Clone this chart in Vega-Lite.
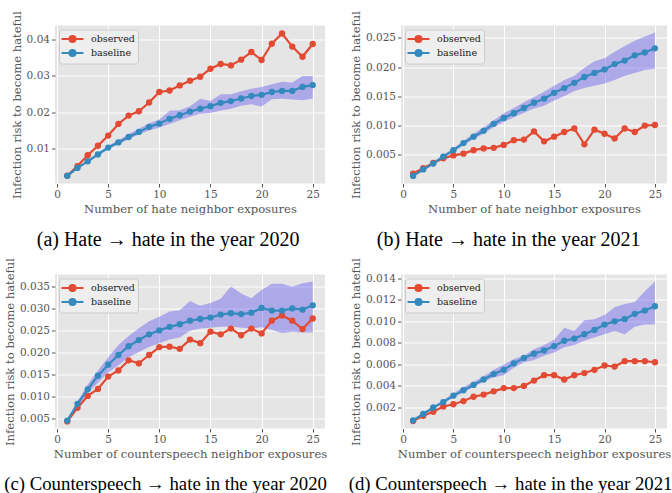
{
  "$schema": "https://vega.github.io/schema/vega-lite/v6.json",
  "padding": {"left": 4, "top": 9.5, "right": 2, "bottom": 0},
  "background": "white",
  "datasets": {
    "a": [
      {"x": 1, "observed": 0.00255, "baseline": 0.0025, "lo": 0.0024, "hi": 0.0026},
      {"x": 2, "observed": 0.0052, "baseline": 0.0047, "lo": 0.0045, "hi": 0.0049},
      {"x": 3, "observed": 0.0082, "baseline": 0.0065, "lo": 0.0062, "hi": 0.0068},
      {"x": 4, "observed": 0.0108, "baseline": 0.0084, "lo": 0.0080, "hi": 0.0088},
      {"x": 5, "observed": 0.0136, "baseline": 0.0103, "lo": 0.0098, "hi": 0.0108},
      {"x": 6, "observed": 0.0168, "baseline": 0.0117, "lo": 0.0112, "hi": 0.0123},
      {"x": 7, "observed": 0.0191, "baseline": 0.0132, "lo": 0.0126, "hi": 0.0140},
      {"x": 8, "observed": 0.0203, "baseline": 0.0146, "lo": 0.0139, "hi": 0.0155},
      {"x": 9, "observed": 0.0227, "baseline": 0.0160, "lo": 0.0150, "hi": 0.0170},
      {"x": 10, "observed": 0.0256, "baseline": 0.0169, "lo": 0.0158, "hi": 0.0180},
      {"x": 11, "observed": 0.0260, "baseline": 0.0182, "lo": 0.0168, "hi": 0.0204},
      {"x": 12, "observed": 0.0274, "baseline": 0.0192, "lo": 0.0178, "hi": 0.0206},
      {"x": 13, "observed": 0.0287, "baseline": 0.0202, "lo": 0.0188, "hi": 0.0217},
      {"x": 14, "observed": 0.0298, "baseline": 0.0210, "lo": 0.0196, "hi": 0.0237},
      {"x": 15, "observed": 0.0320, "baseline": 0.0217, "lo": 0.0198, "hi": 0.0231},
      {"x": 16, "observed": 0.0333, "baseline": 0.0226, "lo": 0.0205, "hi": 0.0250},
      {"x": 17, "observed": 0.0329, "baseline": 0.0231, "lo": 0.0210, "hi": 0.0250},
      {"x": 18, "observed": 0.0345, "baseline": 0.0238, "lo": 0.0218, "hi": 0.0258},
      {"x": 19, "observed": 0.0366, "baseline": 0.0245, "lo": 0.0222, "hi": 0.0265},
      {"x": 20, "observed": 0.0344, "baseline": 0.0248, "lo": 0.0216, "hi": 0.0270},
      {"x": 21, "observed": 0.0389, "baseline": 0.0256, "lo": 0.0236, "hi": 0.0277},
      {"x": 22, "observed": 0.0417, "baseline": 0.0259, "lo": 0.0237, "hi": 0.0284},
      {"x": 23, "observed": 0.0381, "baseline": 0.0259, "lo": 0.0235, "hi": 0.0282},
      {"x": 24, "observed": 0.0353, "baseline": 0.0270, "lo": 0.0233, "hi": 0.0300},
      {"x": 25, "observed": 0.0388, "baseline": 0.0275, "lo": 0.0238, "hi": 0.0300}
    ],
    "b": [
      {"x": 1, "observed": 0.0018, "baseline": 0.0014, "lo": 0.0013, "hi": 0.0015},
      {"x": 2, "observed": 0.0027, "baseline": 0.0025, "lo": 0.0023, "hi": 0.0027},
      {"x": 3, "observed": 0.0036, "baseline": 0.0035, "lo": 0.0033, "hi": 0.0038},
      {"x": 4, "observed": 0.0044, "baseline": 0.0047, "lo": 0.0045, "hi": 0.0050},
      {"x": 5, "observed": 0.0049, "baseline": 0.0058, "lo": 0.0055, "hi": 0.0061},
      {"x": 6, "observed": 0.0052, "baseline": 0.0070, "lo": 0.0066, "hi": 0.0074},
      {"x": 7, "observed": 0.0058, "baseline": 0.0081, "lo": 0.0077, "hi": 0.0086},
      {"x": 8, "observed": 0.0061, "baseline": 0.0091, "lo": 0.0086, "hi": 0.0097},
      {"x": 9, "observed": 0.0062, "baseline": 0.0103, "lo": 0.0097, "hi": 0.0109},
      {"x": 10, "observed": 0.0067, "baseline": 0.0113, "lo": 0.0106, "hi": 0.0121},
      {"x": 11, "observed": 0.0075, "baseline": 0.0121, "lo": 0.0114, "hi": 0.0130},
      {"x": 12, "observed": 0.0076, "baseline": 0.0130, "lo": 0.0122, "hi": 0.0140},
      {"x": 13, "observed": 0.0090, "baseline": 0.0139, "lo": 0.0129, "hi": 0.0149},
      {"x": 14, "observed": 0.0073, "baseline": 0.0146, "lo": 0.0134, "hi": 0.0158},
      {"x": 15, "observed": 0.0081, "baseline": 0.0156, "lo": 0.0143, "hi": 0.0168},
      {"x": 16, "observed": 0.0089, "baseline": 0.0164, "lo": 0.0150, "hi": 0.0178},
      {"x": 17, "observed": 0.0095, "baseline": 0.0173, "lo": 0.0159, "hi": 0.0185},
      {"x": 18, "observed": 0.0068, "baseline": 0.0183, "lo": 0.0164, "hi": 0.0199},
      {"x": 19, "observed": 0.0093, "baseline": 0.0190, "lo": 0.0168, "hi": 0.0210},
      {"x": 20, "observed": 0.0086, "baseline": 0.0196, "lo": 0.0172, "hi": 0.0215},
      {"x": 21, "observed": 0.0078, "baseline": 0.0205, "lo": 0.0178, "hi": 0.0226},
      {"x": 22, "observed": 0.0095, "baseline": 0.0211, "lo": 0.0185, "hi": 0.0236},
      {"x": 23, "observed": 0.0089, "baseline": 0.0220, "lo": 0.0190, "hi": 0.0245},
      {"x": 24, "observed": 0.0100, "baseline": 0.0225, "lo": 0.0195, "hi": 0.0252},
      {"x": 25, "observed": 0.0101, "baseline": 0.0232, "lo": 0.0197, "hi": 0.0259}
    ],
    "c": [
      {"x": 1, "observed": 0.0044, "baseline": 0.0046, "lo": 0.0045, "hi": 0.0047},
      {"x": 2, "observed": 0.0075, "baseline": 0.0084, "lo": 0.0078, "hi": 0.0090},
      {"x": 3, "observed": 0.0102, "baseline": 0.0117, "lo": 0.0108, "hi": 0.0128},
      {"x": 4, "observed": 0.0118, "baseline": 0.0148, "lo": 0.0132, "hi": 0.0160},
      {"x": 5, "observed": 0.0146, "baseline": 0.0173, "lo": 0.0155, "hi": 0.0190},
      {"x": 6, "observed": 0.0160, "baseline": 0.0195, "lo": 0.0172, "hi": 0.0218},
      {"x": 7, "observed": 0.0183, "baseline": 0.0215, "lo": 0.0190, "hi": 0.0238},
      {"x": 8, "observed": 0.0176, "baseline": 0.0229, "lo": 0.0202, "hi": 0.0256},
      {"x": 9, "observed": 0.0195, "baseline": 0.0242, "lo": 0.0213, "hi": 0.0272},
      {"x": 10, "observed": 0.0213, "baseline": 0.0251, "lo": 0.0222, "hi": 0.0282},
      {"x": 11, "observed": 0.0214, "baseline": 0.0259, "lo": 0.0230, "hi": 0.0294},
      {"x": 12, "observed": 0.0209, "baseline": 0.0265, "lo": 0.0235, "hi": 0.0297},
      {"x": 13, "observed": 0.0230, "baseline": 0.0273, "lo": 0.0250, "hi": 0.0318},
      {"x": 14, "observed": 0.0222, "baseline": 0.0277, "lo": 0.0255, "hi": 0.0307},
      {"x": 15, "observed": 0.0248, "baseline": 0.0280, "lo": 0.0257, "hi": 0.0313},
      {"x": 16, "observed": 0.0242, "baseline": 0.0287, "lo": 0.0259, "hi": 0.0323},
      {"x": 17, "observed": 0.0255, "baseline": 0.0290, "lo": 0.0260, "hi": 0.0351},
      {"x": 18, "observed": 0.0240, "baseline": 0.0288, "lo": 0.0257, "hi": 0.0335},
      {"x": 19, "observed": 0.0255, "baseline": 0.0291, "lo": 0.0255, "hi": 0.0324},
      {"x": 20, "observed": 0.0244, "baseline": 0.0302, "lo": 0.0258, "hi": 0.0343},
      {"x": 21, "observed": 0.0273, "baseline": 0.0296, "lo": 0.0252, "hi": 0.0357},
      {"x": 22, "observed": 0.0285, "baseline": 0.0296, "lo": 0.0245, "hi": 0.0357},
      {"x": 23, "observed": 0.0273, "baseline": 0.0301, "lo": 0.0248, "hi": 0.0350},
      {"x": 24, "observed": 0.0254, "baseline": 0.0298, "lo": 0.0246, "hi": 0.0358},
      {"x": 25, "observed": 0.0278, "baseline": 0.0308, "lo": 0.0246, "hi": 0.0362}
    ],
    "d": [
      {"x": 1, "observed": 0.00074, "baseline": 0.0008, "lo": 0.0007, "hi": 0.0009},
      {"x": 2, "observed": 0.00123, "baseline": 0.0014, "lo": 0.0013, "hi": 0.0015},
      {"x": 3, "observed": 0.0016, "baseline": 0.0020, "lo": 0.0019, "hi": 0.0021},
      {"x": 4, "observed": 0.0021, "baseline": 0.0025, "lo": 0.0024, "hi": 0.0027},
      {"x": 5, "observed": 0.0023, "baseline": 0.0031, "lo": 0.0029, "hi": 0.0033},
      {"x": 6, "observed": 0.0026, "baseline": 0.0036, "lo": 0.0034, "hi": 0.0039},
      {"x": 7, "observed": 0.0030, "baseline": 0.0041, "lo": 0.0039, "hi": 0.0044},
      {"x": 8, "observed": 0.0032, "baseline": 0.0046, "lo": 0.0044, "hi": 0.0049},
      {"x": 9, "observed": 0.0035, "baseline": 0.0051, "lo": 0.0048, "hi": 0.0055},
      {"x": 10, "observed": 0.0038, "baseline": 0.0055, "lo": 0.0050, "hi": 0.0060},
      {"x": 11, "observed": 0.0038, "baseline": 0.0061, "lo": 0.0057, "hi": 0.0065},
      {"x": 12, "observed": 0.0040, "baseline": 0.0066, "lo": 0.0062, "hi": 0.0068},
      {"x": 13, "observed": 0.0045, "baseline": 0.0070, "lo": 0.0064, "hi": 0.0074},
      {"x": 14, "observed": 0.0050, "baseline": 0.0073, "lo": 0.0068, "hi": 0.0078},
      {"x": 15, "observed": 0.0050, "baseline": 0.0077, "lo": 0.0071, "hi": 0.0083},
      {"x": 16, "observed": 0.0046, "baseline": 0.0082, "lo": 0.0076, "hi": 0.0094},
      {"x": 17, "observed": 0.0050, "baseline": 0.0084, "lo": 0.0078, "hi": 0.0091},
      {"x": 18, "observed": 0.0052, "baseline": 0.0088, "lo": 0.0082, "hi": 0.0101},
      {"x": 19, "observed": 0.0055, "baseline": 0.0092, "lo": 0.0085, "hi": 0.0102},
      {"x": 20, "observed": 0.0059, "baseline": 0.0097, "lo": 0.0088, "hi": 0.0106},
      {"x": 21, "observed": 0.0058, "baseline": 0.0100, "lo": 0.0091, "hi": 0.0113},
      {"x": 22, "observed": 0.0063, "baseline": 0.0102, "lo": 0.0088, "hi": 0.0116},
      {"x": 23, "observed": 0.0063, "baseline": 0.0107, "lo": 0.0095, "hi": 0.0118},
      {"x": 24, "observed": 0.0063, "baseline": 0.0110, "lo": 0.0097, "hi": 0.0128},
      {"x": 25, "observed": 0.0062, "baseline": 0.0114, "lo": 0.0097, "hi": 0.0137}
    ]
  },
  "columns": 2,
  "concat": [
    {
      "width": 270, "height": 158,
      "data": {"name": "a"},
      "title": {"text": "(a) Hate \u2192 hate in the year 2020", "fontSize": 20},
      "encoding": {
        "x": {"field": "x", "type": "quantitative", "scale": {"domain": [-0.2, 26.2], "nice": false, "zero": false}, "axis": {"values": [0, 5, 10, 15, 20, 25], "tickCount": 12, "title": "Number of hate neighbor exposures"}}
      },
      "layer": [
        {"mark": {"type": "area", "color": "#5a50f0", "opacity": 0.4}, "encoding": {"y": {"field": "lo", "type": "quantitative", "scale": {"domain": [0.0004, 0.0439], "nice": false, "zero": false}, "axis": {"values": [0.01, 0.02, 0.03, 0.04], "tickCount": 12, "format": ".2f", "title": "Infection risk to become hateful"}}, "y2": {"field": "hi"}}},
        {"mark": {"type": "line", "strokeWidth": 2.2, "point": {"filled": true, "size": 40}}, "encoding": {"y": {"field": "observed", "type": "quantitative"}, "color": {"datum": "observed", "type": "nominal", "scale": {"domain": ["observed", "baseline"], "range": ["#E24A33", "#348ABD"]}, "legend": {"title": null}}}},
        {"mark": {"type": "line", "strokeWidth": 2.2, "point": {"filled": true, "size": 40}}, "encoding": {"y": {"field": "baseline", "type": "quantitative"}, "color": {"datum": "baseline", "type": "nominal"}}}
      ]
    },
    {
      "width": 266, "height": 158,
      "data": {"name": "b"},
      "title": {"text": "(b) Hate \u2192 hate in the year 2021", "fontSize": 20},
      "encoding": {
        "x": {"field": "x", "type": "quantitative", "scale": {"domain": [-0.2, 26.2], "nice": false, "zero": false}, "axis": {"values": [0, 5, 10, 15, 20, 25], "tickCount": 12, "title": "Number of hate neighbor exposures"}}
      },
      "layer": [
        {"mark": {"type": "area", "color": "#5a50f0", "opacity": 0.4}, "encoding": {"y": {"field": "lo", "type": "quantitative", "scale": {"domain": [0.0001, 0.0271], "nice": false, "zero": false}, "axis": {"values": [0.005, 0.01, 0.015, 0.02, 0.025], "tickCount": 12, "format": ".3f", "title": "Infection risk to become hateful"}}, "y2": {"field": "hi"}}},
        {"mark": {"type": "line", "strokeWidth": 2.2, "point": {"filled": true, "size": 40}}, "encoding": {"y": {"field": "observed", "type": "quantitative"}, "color": {"datum": "observed", "type": "nominal", "scale": {"domain": ["observed", "baseline"], "range": ["#E24A33", "#348ABD"]}, "legend": {"title": null}}}},
        {"mark": {"type": "line", "strokeWidth": 2.2, "point": {"filled": true, "size": 40}}, "encoding": {"y": {"field": "baseline", "type": "quantitative"}, "color": {"datum": "baseline", "type": "nominal"}}}
      ]
    },
    {
      "width": 270, "height": 154,
      "data": {"name": "c"},
      "title": {"text": "(c) Counterspeech \u2192 hate in the year 2020", "fontSize": 18.8},
      "encoding": {
        "x": {"field": "x", "type": "quantitative", "scale": {"domain": [-0.2, 26.2], "nice": false, "zero": false}, "axis": {"values": [0, 5, 10, 15, 20, 25], "tickCount": 12, "title": "Number of counterspeech neighbor exposures"}}
      },
      "layer": [
        {"mark": {"type": "area", "color": "#5a50f0", "opacity": 0.4}, "encoding": {"y": {"field": "lo", "type": "quantitative", "scale": {"domain": [0.0028, 0.0378], "nice": false, "zero": false}, "axis": {"values": [0.005, 0.01, 0.015, 0.02, 0.025, 0.03, 0.035], "tickCount": 12, "format": ".3f", "title": "Infection risk to become hateful"}}, "y2": {"field": "hi"}}},
        {"mark": {"type": "line", "strokeWidth": 2.2, "point": {"filled": true, "size": 40}}, "encoding": {"y": {"field": "observed", "type": "quantitative"}, "color": {"datum": "observed", "type": "nominal", "scale": {"domain": ["observed", "baseline"], "range": ["#E24A33", "#348ABD"]}, "legend": {"title": null}}}},
        {"mark": {"type": "line", "strokeWidth": 2.2, "point": {"filled": true, "size": 40}}, "encoding": {"y": {"field": "baseline", "type": "quantitative"}, "color": {"datum": "baseline", "type": "nominal"}}}
      ]
    },
    {
      "width": 266, "height": 154,
      "data": {"name": "d"},
      "title": {"text": "(d) Counterspeech \u2192 hate in the year 2021", "fontSize": 18.8},
      "encoding": {
        "x": {"field": "x", "type": "quantitative", "scale": {"domain": [-0.2, 26.2], "nice": false, "zero": false}, "axis": {"values": [0, 5, 10, 15, 20, 25], "tickCount": 12, "title": "Number of counterspeech neighbor exposures"}}
      },
      "layer": [
        {"mark": {"type": "area", "color": "#5a50f0", "opacity": 0.4}, "encoding": {"y": {"field": "lo", "type": "quantitative", "scale": {"domain": [0.00005, 0.01435], "nice": false, "zero": false}, "axis": {"values": [0.002, 0.004, 0.006, 0.008, 0.01, 0.012, 0.014], "tickCount": 12, "format": ".3f", "title": "Infection risk to become hateful"}}, "y2": {"field": "hi"}}},
        {"mark": {"type": "line", "strokeWidth": 2.2, "point": {"filled": true, "size": 40}}, "encoding": {"y": {"field": "observed", "type": "quantitative"}, "color": {"datum": "observed", "type": "nominal", "scale": {"domain": ["observed", "baseline"], "range": ["#E24A33", "#348ABD"]}, "legend": {"title": null}}}},
        {"mark": {"type": "line", "strokeWidth": 2.2, "point": {"filled": true, "size": 40}}, "encoding": {"y": {"field": "baseline", "type": "quantitative"}, "color": {"datum": "baseline", "type": "nominal"}}}
      ]
    }
  ],
  "spacing": {"row": 91, "column": 76},
  "bounds": "flush",
  "resolve": {"scale": {"color": "independent"}, "legend": {"color": "independent"}},
  "config": {
    "view": {"fill": "#e5e5e5", "stroke": null},
    "axis": {
      "domain": false,
      "gridColor": "#ffffff",
      "gridWidth": 1,
      "gridOpacity": 1,
      "tickColor": "#555555",
      "tickSize": 3.5,
      "tickWidth": 1,
      "labelPadding": 2,
      "labelOverlap": false,
      "labelColor": "#555555",
      "labelFont": "DejaVu Serif",
      "labelFontSize": 10.5,
      "titleFont": "DejaVu Serif",
      "titleFontSize": 11.6,
      "titleFontWeight": "normal",
      "titleColor": "#555555",
      "titlePadding": 4
    },
    "title": {"orient": "bottom", "anchor": "middle", "frame": "bounds", "font": "Liberation Serif", "fontSize": 20, "fontWeight": "normal", "color": "#000000", "offset": 15},
    "legend": {
      "orient": "top-left",
      "offset": 4,
      "padding": 3,
      "fillColor": "#eeeeee",
      "strokeColor": "#cccccc",
      "cornerRadius": 3,
      "labelFont": "DejaVu Serif",
      "labelFontSize": 9.5,
      "labelColor": "#222222",
      "symbolType": "M-2,0H2M0.55,0A0.55,0.55,0,1,1,-0.55,0A0.55,0.55,0,1,1,0.55,0Z",
      "symbolSize": 121,
      "symbolStrokeWidth": 2,
      "symbolOffset": 4,
      "labelOffset": 12,
      "rowPadding": -2
    }
  }
}
